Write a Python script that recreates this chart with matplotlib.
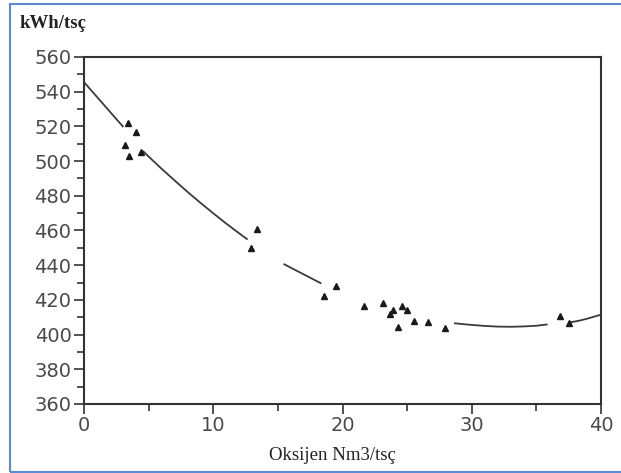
import numpy as np
import matplotlib
matplotlib.use("Agg")
import matplotlib.pyplot as plt
from matplotlib.patches import Rectangle

# ölçüm noktaları (oksijen, enerji tüketimi)
oksijen = [3.4, 4.0, 3.2, 3.5, 4.4, 13.4, 12.9, 18.6, 19.5, 21.7, 23.1, 23.9,
           23.7, 24.6, 25.0, 24.3, 25.5, 26.6, 27.9, 36.8, 37.5]
enerji = [522, 517, 509, 503, 505, 461, 450, 422, 428, 416.5, 418, 414,
          412, 416.5, 414, 404.5, 408, 407, 404, 410.5, 406.5]

# eğri (taramada kesik görünen parçalar, nan = boşluk)
egri_x = [0, 1, 2, 3.0, np.nan,
          4.6, 5.3, 6, 7, 8, 9, 10, 11, 12, 12.6, np.nan,
          15.5, 16.3, 17, 17.7, 18.3, np.nan,
          28.7, 29.5, 30.3, 31, 32, 33, 34, 35, 35.8, np.nan,
          37.6, 38.3, 39, 40]
egri_y = [545.5, 537, 528.5, 520, np.nan,
          505.5, 500.5, 495.6, 488.9, 482.3, 476, 469.9, 464, 458.4, 455.1, np.nan,
          440.5, 437.4, 434.7, 432, 429.7, np.nan,
          406.5, 405.9, 405.4, 405, 404.6, 404.5, 404.7, 405.1, 405.8, np.nan,
          407, 408, 409.3, 411.5]

x_ticks = [0, 10, 20, 30, 40]
y_ticks = [360, 380, 400, 420, 440, 460, 480, 500, 520, 540, 560]

fig = plt.figure(figsize=(6.21, 4.73), dpi=100)
ax = fig.add_axes([0.1353, 0.1459, 0.8325, 0.7336])

ax.plot(egri_x, egri_y, color="#3a3a3a", lw=1.3)
ax.plot(oksijen, enerji, "^", color="#1a1a1a", markersize=5, ls="none")

ax.set_xlim(0, 40)
ax.set_ylim(360, 560)
ax.set_xticks(x_ticks)
ax.set_yticks(y_ticks)
ax.set_xticks([5, 15, 25, 35], minor=True)
ax.set_yticks(np.arange(370, 560, 20), minor=True)
ax.tick_params(which="major", direction="out", length=7, width=1.2,
               color="#333333", labelsize=14, labelcolor="#4a4a4a", pad=2)
ax.tick_params(which="minor", direction="out", length=5, width=1.2,
               color="#333333")
for s in ax.spines.values():
    s.set_linewidth(1.5)
    s.set_color("#333333")

fig.text(0.032, 0.951, "kWh/tsç", fontsize=13.5, family="Liberation Serif",
         color="#222222", va="center", ha="left", weight="bold")
fig.text(0.535, 0.036, "Oksijen Nm3/tsç", fontsize=13.5, family="Liberation Serif",
         color="#222222", va="center", ha="center")

# mavi çerçeve
fig.patches.append(Rectangle((10 / 621, 1.5 / 473), 1.2, 1 - 5.5 / 473,
                             transform=fig.transFigure, fill=False,
                             edgecolor="#5b8ad6", lw=1.5))

fig.savefig("out.png", dpi=100)
